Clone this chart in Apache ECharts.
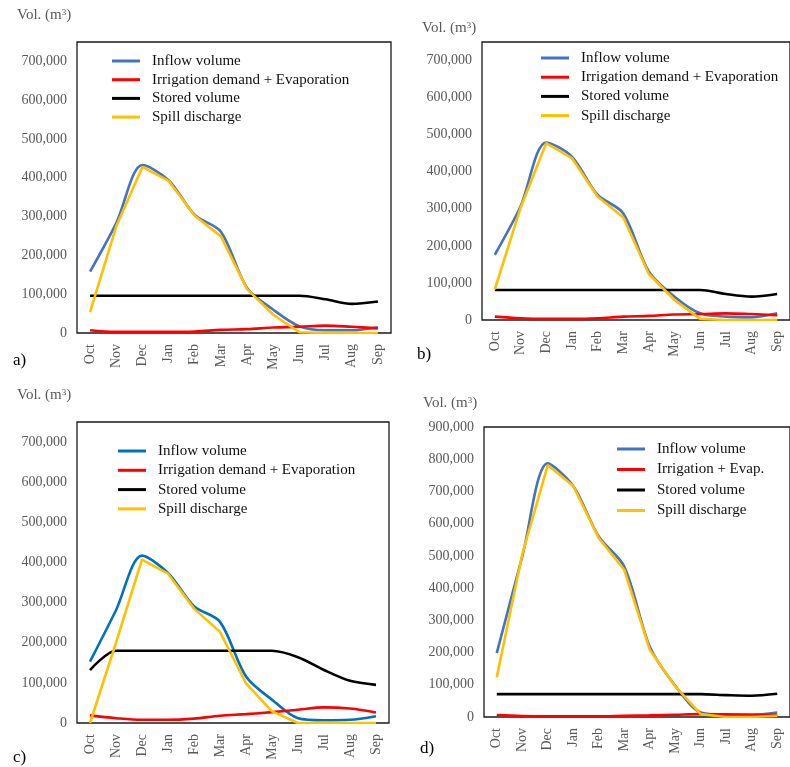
<!DOCTYPE html>
<html>
<head>
<meta charset="utf-8">
<script src="https://cdn.jsdelivr.net/npm/echarts@6/dist/echarts.min.js"></script>
<style>
html,body{margin:0;padding:0;background:#fff;}
#chart{width:790px;height:767px;}
</style>
</head>
<body>
<div id="chart"></div>
<script>
// ---- Data ----
var months = ['Oct','Nov','Dec','Jan','Feb','Mar','Apr','May','Jun','Jul','Aug','Sep'];

var seriesNamesABC = ['Inflow volume','Irrigation demand + Evaporation','Stored volume','Spill discharge'];
var seriesNamesD = ['Inflow volume','Irrigation + Evap.','Stored volume','Spill discharge'];

var yTicksABC = [0,100000,200000,300000,400000,500000,600000,700000];
var yTicksD = [0,100000,200000,300000,400000,500000,600000,700000,800000,900000];

// Panel a
var inflowA = [158000, 283000, 433000, 394000, 304000, 261000, 116000, 60000, 17000, 7000, 7000, 15000];
var irrigA  = [7000, 3000, 3000, 3000, 4000, 8000, 10000, 14000, 16000, 19000, 16000, 12000];
var storedA = [96000, 96000, 96000, 96000, 96000, 96000, 96000, 96000, 96000, 87000, 75000, 81000];
var spillA  = [54000, 275000, 428000, 392000, 302000, 249000, 113000, 47000, 2000, 0, 0, 0];

// Panel b
var inflowB = [176000, 306000, 479000, 441000, 338000, 288000, 131000, 63000, 18000, 9000, 7000, 18000];
var irrigB  = [9000, 4500, 3000, 3000, 4500, 9000, 11000, 15000, 16000, 18000, 16000, 13000];
var storedB = [81000, 81000, 81000, 81000, 81000, 81000, 81000, 81000, 81000, 70000, 63000, 70000];
var spillB  = [83000, 302000, 477000, 437000, 333000, 277000, 124000, 54000, 3000, 0, 0, 0];

// Panel c
var inflowC = [153000, 281000, 417000, 374000, 291000, 252000, 116000, 58000, 12000, 7000, 8000, 17000];
var irrigC  = [19000, 12000, 8000, 8000, 11000, 18000, 22000, 27000, 33000, 39000, 36000, 26000];
var storedC = [132000, 180000, 180000, 180000, 180000, 180000, 180000, 180000, 164000, 132000, 105000, 95000];
var spillC  = [0, 200000, 407000, 372000, 285000, 227000, 99000, 29000, 0, 0, 0, 0];

// Panel d
var inflowD = [198000, 498000, 787000, 717000, 560000, 467000, 219000, 97000, 14000, 7000, 7000, 14000];
var irrigD  = [6000, 3000, 2000, 2000, 2000, 4000, 5000, 7000, 9000, 8000, 7000, 6000];
var storedD = [71000, 71000, 71000, 71000, 71000, 71000, 71000, 71000, 71000, 68000, 66000, 72000];
var spillD  = [123000, 505000, 782000, 717000, 555000, 457000, 209000, 95000, 9000, 0, 0, 4000];

// ---- Styles ----
var FONT = '"Liberation Serif", "DejaVu Serif", serif';
var GRAY = '#595959';
var BLUE = '#4472C4', BLUE_C = '#0070C0', RED = '#FF0000', BLACK = '#000000', GOLD = '#FFC000';

var panels = [
  {grid:{left:77, top:42, width:314, height:291}, max:750000, ticks:yTicksABC, names:seriesNamesABC,
   data:[inflowA, irrigA, storedA, spillA], inflowColor:BLUE,
   legend:{left:112, top:53, itemGap:2.7}, vol:[17,17], tag:['a)',13,362]},
  {grid:{left:482, top:42, width:318, height:278}, max:750000, ticks:yTicksABC, names:seriesNamesABC,
   data:[inflowB, irrigB, storedB, spillB], inflowColor:BLUE,
   legend:{left:541, top:50, itemGap:3.2}, vol:[422,30], tag:['b)',417,356]},
  {grid:{left:77, top:422, width:312, height:301}, max:750000, ticks:yTicksABC, names:seriesNamesABC,
   data:[inflowC, irrigC, storedC, spillC], inflowColor:BLUE_C,
   legend:{left:118, top:443, itemGap:3.3}, vol:[17,397], tag:['c)',13,759]},
  {grid:{left:484, top:427, width:317, height:290}, max:900000, ticks:yTicksD, names:seriesNamesD,
   data:[inflowD, irrigD, storedD, spillD], inflowColor:BLUE,
   legend:{left:617, top:441, itemGap:4.5}, vol:[423,405], tag:['d)',420,750]}
];

function fmt(v){
  return String(v).replace(/\B(?=(\d{3})+(?!\d))/g, ',');
}

var option = {
  animation:false,
  backgroundColor:'#fff',
  grid:[], xAxis:[], yAxis:[], series:[], legend:[], graphic:[]
};

panels.forEach(function(p, i){
  option.grid.push(Object.assign({show:true, borderColor:'#1a1a1a', borderWidth:1.3, containLabel:false}, p.grid));
  option.xAxis.push({
    type:'category', gridIndex:i, data:months, boundaryGap:true,
    axisLine:{show:false}, axisTick:{show:false}, splitLine:{show:false},
    axisLabel:{rotate:90, color:GRAY, fontFamily:FONT, fontSize:14, margin:11, interval:0}
  });
  var ticks = p.ticks;
  option.yAxis.push({
    type:'value', gridIndex:i, min:0, max:p.max, interval:100000,
    axisLine:{show:false}, axisTick:{show:false}, splitLine:{show:false},
    axisLabel:{color:GRAY, fontFamily:FONT, fontSize:14, margin:10,
      formatter:function(v){ return ticks.indexOf(v) >= 0 ? fmt(v) : ''; }}
  });
  var colors = [p.inflowColor, RED, BLACK, GOLD];
  var smooths = [0.3, 0.35, 0.3, false];
  p.names.forEach(function(n, k){
    option.series.push({
      type:'line', name:n, xAxisIndex:i, yAxisIndex:i, data:p.data[k],
      smooth:smooths[k], showSymbol:false, symbol:'none', color:colors[k],
      lineStyle:{width:2.6, color:colors[k]}, z:2+k
    });
  });
  option.legend.push({
    left:p.legend.left, top:p.legend.top, orient:'vertical', itemGap:p.legend.itemGap, padding:0,
    icon:'rect', itemWidth:28, itemHeight:3, selectedMode:false,
    textStyle:{fontFamily:FONT, fontSize:15, color:'#111', lineHeight:16, padding:[0,0,0,7]},
    data:p.names.map(function(n, k){ return {name:n, itemStyle:{color:colors[k]}}; })
  });
  option.graphic.push({
    type:'text', left:p.vol[0], top:p.vol[1]-9,
    style:{text:'Vol. (m{s|3})', fill:GRAY, font:'15px ' + FONT,
      rich:{s:{fontSize:9, fontFamily:FONT, fill:GRAY, verticalAlign:'top', padding:[0,0,6,0]}}}
  });
  option.graphic.push({
    type:'text', left:p.tag[1], top:p.tag[2]-10,
    style:{text:p.tag[0], fill:'#000', font:'17px ' + FONT}
  });
});

var chart = echarts.init(document.getElementById('chart'), null, {renderer:'canvas'});
chart.setOption(option);
</script>
</body>
</html>
